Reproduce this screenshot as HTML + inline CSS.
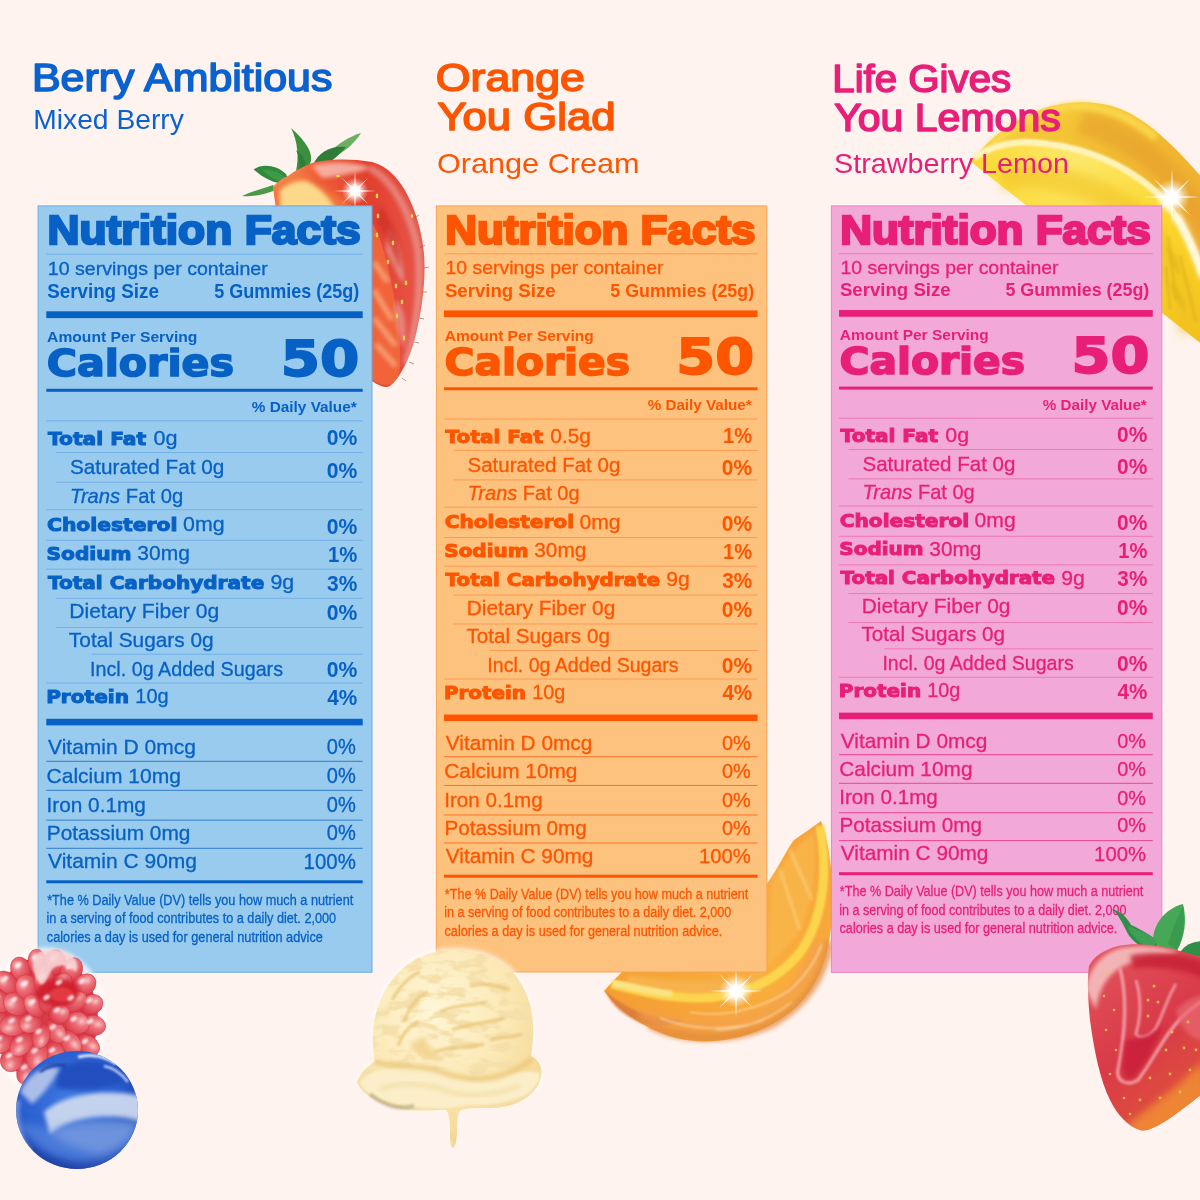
<!DOCTYPE html>
<html lang="en"><head><meta charset="utf-8"><title>Nutrition Facts</title>
<style>
html,body{margin:0;padding:0;background:#fef3ee;}
body{width:1200px;height:1200px;overflow:hidden;}
svg{display:block;font-family:"Liberation Sans",Arial,Helvetica,sans-serif;}
text{white-space:pre;}
.dj{font-family:"DejaVu Sans","Liberation Sans",sans-serif;}
</style></head><body>
<svg width="1200" height="1200" viewBox="0 0 1200 1200" shape-rendering="geometricPrecision">
<rect width="1200" height="1200" fill="#fef3ee"/>
<defs>
<filter id="b1" x="-20%" y="-20%" width="140%" height="140%"><feGaussianBlur stdDeviation="1"/></filter>
<filter id="b2" x="-20%" y="-20%" width="140%" height="140%"><feGaussianBlur stdDeviation="2.2"/></filter>
<filter id="b4" x="-30%" y="-30%" width="160%" height="160%"><feGaussianBlur stdDeviation="4"/></filter>
<filter id="b8" x="-40%" y="-40%" width="180%" height="180%"><feGaussianBlur stdDeviation="8"/></filter>
<radialGradient id="spark"><stop offset="0" stop-color="#fff"/><stop offset=".35" stop-color="#fff" stop-opacity=".95"/><stop offset=".7" stop-color="#fff" stop-opacity=".35"/><stop offset="1" stop-color="#fff" stop-opacity="0"/></radialGradient>
<g id="sparkle"><circle r="14" fill="url(#spark)"/><path d="M-22 0L0 -1.2L22 0L0 1.2ZM0 -22L1.2 0L0 22L-1.2 0ZM-14 -14L.9 -.9L14 14L-.9 .9ZM14 -14L.9 .9L-14 14L-.9 -.9Z" fill="#fff" opacity=".85"/></g>
<linearGradient id="sbA" x1="0" y1="0" x2="1" y2="0"><stop offset="0" stop-color="#f6a25a"/><stop offset=".3" stop-color="#ef5a36"/><stop offset=".62" stop-color="#e23f2e"/><stop offset="1" stop-color="#e8564a"/></linearGradient>
<clipPath id="sbAclip"><path id="sbApath" d="M273 187C277 182 283 178 288 176C296 170 304 166 312 163C326 159 350 158 372 162C388 166 400 180 408 196C416 212 422 232 424 254C426 280 422 310 415 338C409 360 400 378 390 386C384 389 376 384 368 378L300 330L277 215Z"/></clipPath>
<radialGradient id="lemF" cx=".45" cy=".1" r="1"><stop offset="0" stop-color="#fde86a"/><stop offset=".5" stop-color="#fbd62c"/><stop offset="1" stop-color="#f3c21c"/></radialGradient>
<linearGradient id="lemR" x1="0" y1="0" x2="1" y2="1"><stop offset="0" stop-color="#f8d23c"/><stop offset=".5" stop-color="#f2b932"/><stop offset="1" stop-color="#eca634"/></linearGradient>
<linearGradient id="orF" x1="1" y1="0" x2="0" y2="1"><stop offset="0" stop-color="#f7a23a"/><stop offset=".5" stop-color="#f9ae3c"/><stop offset="1" stop-color="#f49a30"/></linearGradient>
</defs>
<!-- top strawberry (behind blue panel) -->
<g>
<path d="M242 196C252 191 262 189 273 185L276 190C264 195 252 197 242 196Z" fill="#4a9a48"/>
<path d="M253.6 169.5C262 163 277 165 286 174L290 183C278 186 264 179 253.6 169.5Z" fill="#2f8a3c"/>
<path d="M262 170C270 168 280 172 286 178L288 183C278 182 268 176 262 170Z" fill="#3f9a48"/>
<path d="M328 153C338 144 350 136 361 133C355 143 345 151 336 156Z" fill="#6ab060"/>
<path d="M291 128C302 138 313 150 311 161L308 169L296 171C299 158 298 142 291 128Z" fill="#3c8f3f"/>
<path d="M296 150C302 154 306 160 306 168L299 170C300 162 299 156 296 150Z" fill="#2f7d36"/>
<path d="M313 165C318 152 332 145 346 147C341 153 332 161 323 168Z" fill="#2f7d36"/>
<path d="M284 180C292 172 304 168 314 166L322 172L290 188Z" fill="#4a2e22"/>
<use href="#sbApath" fill="url(#sbA)"/>
<g clip-path="url(#sbAclip)">
<path d="M268 188C280 180 292 176 300 178C318 184 336 192 350 204L350 400L268 400Z" fill="#f2743e" filter="url(#b4)"/>
<path d="M280 190C288 183 298 180 306 181C318 186 330 196 338 214L280 216Z" fill="#fbd88a" filter="url(#b2)"/>
<path d="M366 214C380 230 388 262 396 308C400 340 402 362 398 378C392 388 382 386 372 380L360 300Z" fill="#f1643a"/>
<path d="M374 290L392 320M374 318L396 346M376 344L396 366M374 262L388 282" stroke="#f9b48a" stroke-width="5" opacity=".75" filter="url(#b2)"/>
<path d="M370 168C392 180 410 210 418 250C422 290 416 330 406 364" stroke="#e9b4b0" stroke-width="7" fill="none" opacity=".55" filter="url(#b2)"/>
<path d="M388 226C398 240 404 262 404 284C398 276 392 262 386 250Z" fill="#e8a8a4" opacity=".7" filter="url(#b2)"/>
<path d="M396 300C406 310 408 330 404 348C398 338 396 322 394 310Z" fill="#e8a8a4" opacity=".6" filter="url(#b2)"/>
<path d="M312 166C330 160 356 162 372 168C360 172 340 176 322 178Z" fill="#f7c3b8" opacity=".8" filter="url(#b2)"/>
<path d="M380 206C394 220 402 250 400 270C392 250 384 232 376 222Z" fill="#cf2f28" opacity=".7" filter="url(#b2)"/>
<g fill="#f1d24a"><ellipse cx="377" cy="196" rx="1.3" ry="2.4"/><ellipse cx="378" cy="216" rx="1.3" ry="2.4"/><ellipse cx="377" cy="235" rx="1.3" ry="2.4"/><ellipse cx="393" cy="243" rx="1.3" ry="2.4"/><ellipse cx="388" cy="262" rx="1.3" ry="2.4"/><ellipse cx="406" cy="283" rx="1.3" ry="2.4"/><ellipse cx="396" cy="286" rx="1.3" ry="2.4"/><ellipse cx="402" cy="302" rx="1.3" ry="2.4"/><ellipse cx="397" cy="316" rx="1.3" ry="2.4"/><ellipse cx="404" cy="338" rx="1.3" ry="2.4"/><ellipse cx="338" cy="176" rx="2" ry="1.2"/><ellipse cx="412" cy="216" rx="1.2" ry="2"/></g>
</g>
<path d="M414 218l5-3M420 248l5-3M424 268l5-1M422 292l5 0M419 318l5 1M414 342l5 1M409 362l5 2M402 378l4 3" stroke="#6a5a50" stroke-width=".8" opacity=".7"/>
<use href="#sparkle" transform="translate(355 191) scale(.95)"/>
</g>
<!-- lemon wedge (behind pink panel) -->
<g>
<path d="M974 158C988 140 1010 122 1042 109C1064 101 1090 100 1112 106C1140 114 1170 140 1204 180L1204 274C1194 240 1178 210 1158 190C1124 160 1078 142 1026 140Z" fill="url(#lemR)"/>
<path d="M1084 112C1110 112 1140 130 1164 154C1180 170 1194 188 1204 204L1204 240C1190 214 1170 186 1140 164C1120 150 1096 140 1076 134Z" fill="#e29a2c" opacity=".5" filter="url(#b4)"/>
<path d="M990 146C1010 126 1040 112 1070 106C1100 104 1130 116 1156 138" stroke="#fbdc50" stroke-width="8" fill="none" opacity=".8" filter="url(#b2)"/>
<path d="M970 161C980 149 1000 141 1026 140C1078 142 1124 160 1158 190C1178 210 1194 240 1204 274L1204 346L970 161Z" fill="url(#lemF)"/>
<path d="M1000 178C1040 172 1090 182 1130 210C1160 236 1180 280 1192 332" stroke="#f0c020" stroke-width="24" fill="none" opacity=".5" filter="url(#b4)"/>
<path d="M974 158C986 149 1002 143 1026 142C1078 144 1122 162 1156 192C1176 212 1192 242 1202 274" stroke="#fff4c0" stroke-width="6.5" fill="none" opacity=".95" filter="url(#b1)"/>
<path d="M1176 214C1186 232 1196 254 1204 278" stroke="#fffbe6" stroke-width="9" fill="none" opacity=".8" filter="url(#b2)"/>
<path d="M1168 236L1176 300M1180 256L1196 322M1166 266L1170 310" stroke="#d9b21e" stroke-width="3" fill="none" opacity=".55" filter="url(#b1)"/>
<path d="M1166 246C1174 250 1180 262 1180 276C1174 270 1168 262 1166 246ZM1170 282C1180 288 1186 300 1186 314C1178 306 1172 296 1170 282Z" fill="#e0b41c" opacity=".5" filter="url(#b1)"/>
<use href="#sparkle" transform="translate(1172 197) scale(1.3)"/>
</g>
<!-- orange slice (behind orange & pink panels) -->
<g>
<path d="M821 821C832 850 836 900 829 942C822 980 804 1006 776 1022C746 1040 708 1046 676 1038C646 1030 620 1012 604 991C610 984 616 978 622 972L760 960L762 890C776 874 786 850 794 840C806 832 814 826 821 821Z" fill="url(#orF)"/>
<path d="M606 991C620 1006 650 1020 684 1020C660 1030 640 1026 622 1012C614 1006 608 998 606 991Z" fill="#d9783a" opacity=".85" filter="url(#b1)"/>
<path d="M650 1024C680 1040 730 1042 770 1024C800 1008 822 982 829 942" stroke="#e08a40" stroke-width="10" fill="none" opacity=".7" filter="url(#b2)"/>
<path d="M640 1012C670 1026 720 1030 760 1016C790 1002 812 976 820 940" stroke="#f3a050" stroke-width="12" fill="none" opacity=".8" filter="url(#b4)"/>
<path d="M772 880C786 860 800 842 814 832C818 870 812 910 796 936C784 950 774 960 766 968Z" fill="#f9b54a" opacity=".9" filter="url(#b2)"/>
<path d="M780 870L800 930M790 850L812 900" stroke="#f8c870" stroke-width="4" opacity=".7" filter="url(#b1)"/>
<path d="M628 975C670 982 720 984 764 974L764 990C720 1000 670 996 626 986Z" fill="#f7b24e" filter="url(#b2)"/>
<path d="M820 826C828 870 824 916 802 950C778 982 738 998 700 998C664 998 634 990 612 984" stroke="#fdd850" stroke-width="9" fill="none" opacity=".95" filter="url(#b1)"/>
<path d="M612 983C630 986 650 992 672 994" stroke="#fbe48a" stroke-width="7" fill="none" opacity=".9" filter="url(#b1)"/>
<path d="M690 1012C720 1018 760 1010 790 990C806 976 816 960 822 944M660 1018C690 1030 730 1032 764 1020M716 1030C740 1030 770 1020 792 1002" stroke="#fff" stroke-width="1.6" fill="none" opacity=".45" filter="url(#b1)"/>
<use href="#sparkle" transform="translate(736 991) scale(1.2)"/>
</g>

<rect x="38.1" y="205.9" width="333.90" height="766.30" fill="#98cbed" stroke="#6daae6" stroke-width="1"/>
<g transform="translate(38,205.8) scale(1,1) translate(-38,-205.8)">
<text x="47.43" y="244.20" font-size="41.28" font-weight="700" font-style="normal" fill="#0761c5" stroke="#0761c5" stroke-width="2.4" stroke-linejoin="miter" textLength="313.19" lengthAdjust="spacingAndGlyphs">Nutrition Facts</text><rect x="140.21" y="218.85" width="9.19" height="3.14" fill="#98cbed"/><rect x="167.32" y="218.85" width="9.19" height="3.14" fill="#98cbed"/>
<rect x="46.3" y="253.70" width="316.40" height="1.0" fill="#74b0e8"/>
<text x="47.86" y="274.50" font-size="18.30" font-weight="400" font-style="normal" fill="#0761c5" stroke="#0761c5" stroke-width="0.3" stroke-linejoin="miter" textLength="219.82" lengthAdjust="spacingAndGlyphs">10 servings per container</text>
<text x="47.16" y="297.50" font-size="19.30" font-weight="700" font-style="normal" fill="#0761c5" textLength="111.78" lengthAdjust="spacingAndGlyphs">Serving Size</text>
<text x="214.15" y="297.50" font-size="19.30" font-weight="700" font-style="normal" fill="#0761c5" textLength="145.05" lengthAdjust="spacingAndGlyphs">5 Gummies (25g)</text>
<rect x="46.3" y="311.3" width="316.40" height="6.80" fill="#0761c5"/>
<text x="47.11" y="342.00" font-size="14.20" font-weight="700" font-style="normal" fill="#0761c5" textLength="150.23" lengthAdjust="spacingAndGlyphs">Amount Per Serving</text>
<text x="46.75" y="376.00" font-size="38.13" class="dj" font-weight="700" fill="#0761c5" stroke="#0761c5" stroke-width="1.6" stroke-linejoin="miter" textLength="187.20" lengthAdjust="spacingAndGlyphs">Calories</text><rect x="169.73" y="352.73" width="9.50" height="2.15" fill="#98cbed"/>
<text x="280.74" y="375.50" font-size="50.40" class="dj" font-weight="700" fill="#0761c5" stroke="#0761c5" stroke-width="1.8" stroke-linejoin="miter" textLength="78.56" lengthAdjust="spacingAndGlyphs">50</text>
<rect x="46.3" y="388.8" width="316.40" height="3.00" fill="#0761c5"/>
<text x="251.82" y="412.00" font-size="14.60" font-weight="700" font-style="normal" fill="#0761c5" textLength="104.89" lengthAdjust="spacingAndGlyphs">% Daily Value*</text>
<rect x="46.3" y="420.30" width="316.40" height="1.0" fill="#74b0e8"/>
<text x="47.90" y="444.50" font-size="17.70" class="dj" font-weight="700" fill="#0761c5" stroke="#0761c5" stroke-width="1" stroke-linejoin="miter" textLength="98.24" lengthAdjust="spacingAndGlyphs">Total Fat</text>
<text x="153.51" y="445.00" font-size="20.80" font-weight="400" font-style="normal" fill="#0761c5" stroke="#0761c5" stroke-width="0.3" stroke-linejoin="miter" textLength="24.04" lengthAdjust="spacingAndGlyphs">0g</text>
<text x="326.66" y="444.60" font-size="21.50" font-weight="700" font-style="normal" fill="#0761c5" textLength="30.60" lengthAdjust="spacingAndGlyphs">0%</text>
<text x="46.99" y="530.80" font-size="17.70" class="dj" font-weight="700" fill="#0761c5" stroke="#0761c5" stroke-width="1" stroke-linejoin="miter" textLength="130.52" lengthAdjust="spacingAndGlyphs">Cholesterol</text>
<text x="183.02" y="531.30" font-size="20.80" font-weight="400" font-style="normal" fill="#0761c5" stroke="#0761c5" stroke-width="0.3" stroke-linejoin="miter" textLength="41.51" lengthAdjust="spacingAndGlyphs">0mg</text>
<text x="326.66" y="533.80" font-size="21.50" font-weight="700" font-style="normal" fill="#0761c5" textLength="30.60" lengthAdjust="spacingAndGlyphs">0%</text>
<text x="46.55" y="559.50" font-size="17.70" class="dj" font-weight="700" fill="#0761c5" stroke="#0761c5" stroke-width="1" stroke-linejoin="miter" textLength="85.04" lengthAdjust="spacingAndGlyphs">Sodium</text><rect x="90.18" y="548.60" width="5.22" height="1.20" fill="#98cbed"/>
<text x="137.35" y="560.00" font-size="20.80" font-weight="400" font-style="normal" fill="#0761c5" stroke="#0761c5" stroke-width="0.3" stroke-linejoin="miter" textLength="52.55" lengthAdjust="spacingAndGlyphs">30mg</text>
<text x="327.92" y="562.20" font-size="21.50" font-weight="700" font-style="normal" fill="#0761c5" textLength="29.31" lengthAdjust="spacingAndGlyphs">1%</text>
<text x="47.90" y="588.70" font-size="17.70" class="dj" font-weight="700" fill="#0761c5" stroke="#0761c5" stroke-width="1" stroke-linejoin="miter" textLength="216.35" lengthAdjust="spacingAndGlyphs">Total Carbohydrate</text>
<text x="270.45" y="589.20" font-size="20.80" font-weight="400" font-style="normal" fill="#0761c5" stroke="#0761c5" stroke-width="0.3" stroke-linejoin="miter" textLength="23.78" lengthAdjust="spacingAndGlyphs">9g</text>
<text x="327.02" y="590.80" font-size="21.50" font-weight="700" font-style="normal" fill="#0761c5" textLength="30.23" lengthAdjust="spacingAndGlyphs">3%</text>
<text x="46.15" y="702.80" font-size="17.70" class="dj" font-weight="700" fill="#0761c5" stroke="#0761c5" stroke-width="1" stroke-linejoin="miter" textLength="82.92" lengthAdjust="spacingAndGlyphs">Protein</text><rect x="108.70" y="691.90" width="5.21" height="1.20" fill="#98cbed"/>
<text x="135.33" y="703.30" font-size="20.80" font-weight="400" font-style="normal" fill="#0761c5" stroke="#0761c5" stroke-width="0.3" stroke-linejoin="miter" textLength="33.31" lengthAdjust="spacingAndGlyphs">10g</text>
<text x="327.19" y="704.50" font-size="21.50" font-weight="700" font-style="normal" fill="#0761c5" textLength="30.06" lengthAdjust="spacingAndGlyphs">4%</text>
<text x="70.01" y="474.10" font-size="20.80" font-weight="400" font-style="normal" fill="#0761c5" stroke="#0761c5" stroke-width="0.3" stroke-linejoin="miter" textLength="154.17" lengthAdjust="spacingAndGlyphs">Saturated Fat 0g</text>
<text x="326.66" y="477.60" font-size="21.50" font-weight="700" font-style="normal" fill="#0761c5" textLength="30.60" lengthAdjust="spacingAndGlyphs">0%</text>
<text x="69.22" y="618.10" font-size="20.80" font-weight="400" font-style="normal" fill="#0761c5" stroke="#0761c5" stroke-width="0.3" stroke-linejoin="miter" textLength="149.99" lengthAdjust="spacingAndGlyphs">Dietary Fiber 0g</text>
<text x="326.66" y="620.00" font-size="21.50" font-weight="700" font-style="normal" fill="#0761c5" textLength="30.60" lengthAdjust="spacingAndGlyphs">0%</text>
<text x="68.89" y="646.80" font-size="20.80" font-weight="400" font-style="normal" fill="#0761c5" stroke="#0761c5" stroke-width="0.3" stroke-linejoin="miter" textLength="144.78" lengthAdjust="spacingAndGlyphs">Total Sugars 0g</text>
<text x="90.04" y="675.60" font-size="20.80" font-weight="400" font-style="normal" fill="#0761c5" stroke="#0761c5" stroke-width="0.3" stroke-linejoin="miter" textLength="193.02" lengthAdjust="spacingAndGlyphs">Incl. 0g Added Sugars</text>
<text x="326.66" y="676.80" font-size="21.50" font-weight="700" font-style="normal" fill="#0761c5" textLength="30.60" lengthAdjust="spacingAndGlyphs">0%</text>
<text x="70.06" y="502.70" font-size="20.80" font-weight="400" font-style="italic" fill="#0761c5" stroke="#0761c5" stroke-width="0.3" stroke-linejoin="miter" textLength="113.08" lengthAdjust="spacingAndGlyphs">Trans<tspan font-weight="400" font-style="normal"> Fat 0g</tspan></text>
<rect x="55.8" y="452.00" width="306.90" height="1.0" fill="#74b0e8"/>
<rect x="55.8" y="481.70" width="306.90" height="1.0" fill="#74b0e8"/>
<rect x="46.3" y="509.20" width="316.40" height="1.0" fill="#74b0e8"/>
<rect x="46.3" y="539.80" width="316.40" height="1.0" fill="#74b0e8"/>
<rect x="46.3" y="568.70" width="316.40" height="1.0" fill="#74b0e8"/>
<rect x="55.8" y="597.80" width="306.90" height="1.0" fill="#74b0e8"/>
<rect x="55.8" y="627.00" width="306.90" height="1.0" fill="#74b0e8"/>
<rect x="92" y="653.70" width="270.70" height="1.0" fill="#74b0e8"/>
<rect x="46.3" y="682.50" width="316.40" height="1.0" fill="#74b0e8"/>
<rect x="46.3" y="718.8" width="316.40" height="6.60" fill="#0761c5"/>
<text x="48.06" y="754.10" font-size="20.90" font-weight="400" font-style="normal" fill="#0761c5" stroke="#0761c5" stroke-width="0.3" stroke-linejoin="miter" textLength="147.84" lengthAdjust="spacingAndGlyphs">Vitamin D 0mcg</text>
<text x="326.87" y="754.30" font-size="21.20" font-weight="400" font-style="normal" fill="#0761c5" stroke="#0761c5" stroke-width="0.3" stroke-linejoin="miter" textLength="29.00" lengthAdjust="spacingAndGlyphs">0%</text>
<text x="46.58" y="782.50" font-size="20.90" font-weight="400" font-style="normal" fill="#0761c5" stroke="#0761c5" stroke-width="0.3" stroke-linejoin="miter" textLength="134.32" lengthAdjust="spacingAndGlyphs">Calcium 10mg</text>
<text x="326.87" y="782.70" font-size="21.20" font-weight="400" font-style="normal" fill="#0761c5" stroke="#0761c5" stroke-width="0.3" stroke-linejoin="miter" textLength="29.00" lengthAdjust="spacingAndGlyphs">0%</text>
<text x="46.53" y="811.70" font-size="20.90" font-weight="400" font-style="normal" fill="#0761c5" stroke="#0761c5" stroke-width="0.3" stroke-linejoin="miter" textLength="99.36" lengthAdjust="spacingAndGlyphs">Iron 0.1mg</text>
<text x="326.87" y="811.90" font-size="21.20" font-weight="400" font-style="normal" fill="#0761c5" stroke="#0761c5" stroke-width="0.3" stroke-linejoin="miter" textLength="29.00" lengthAdjust="spacingAndGlyphs">0%</text>
<text x="46.74" y="839.80" font-size="20.90" font-weight="400" font-style="normal" fill="#0761c5" stroke="#0761c5" stroke-width="0.3" stroke-linejoin="miter" textLength="143.65" lengthAdjust="spacingAndGlyphs">Potassium 0mg</text>
<text x="326.87" y="840.00" font-size="21.20" font-weight="400" font-style="normal" fill="#0761c5" stroke="#0761c5" stroke-width="0.3" stroke-linejoin="miter" textLength="29.00" lengthAdjust="spacingAndGlyphs">0%</text>
<text x="48.06" y="868.40" font-size="20.90" font-weight="400" font-style="normal" fill="#0761c5" stroke="#0761c5" stroke-width="0.3" stroke-linejoin="miter" textLength="148.94" lengthAdjust="spacingAndGlyphs">Vitamin C 90mg</text>
<text x="303.59" y="868.60" font-size="21.20" font-weight="400" font-style="normal" fill="#0761c5" stroke="#0761c5" stroke-width="0.3" stroke-linejoin="miter" textLength="52.29" lengthAdjust="spacingAndGlyphs">100%</text>
<rect x="46.3" y="760.80" width="316.40" height="1" fill="#0761c5" opacity=".72"/>
<rect x="46.3" y="789.80" width="316.40" height="1" fill="#0761c5" opacity=".72"/>
<rect x="46.3" y="819.60" width="316.40" height="1" fill="#0761c5" opacity=".72"/>
<rect x="46.3" y="847.80" width="316.40" height="1" fill="#0761c5" opacity=".72"/>
<rect x="46.3" y="880.3" width="316.40" height="3.00" fill="#0761c5"/>
<text x="47.15" y="904.80" font-size="14.80" font-weight="400" font-style="normal" fill="#0761c5" stroke="#0761c5" stroke-width="0.3" stroke-linejoin="miter" textLength="306.10" lengthAdjust="spacingAndGlyphs">*The % Daily Value (DV) tells you how much a nutrient</text>
<text x="46.50" y="923.30" font-size="14.80" font-weight="400" font-style="normal" fill="#0761c5" stroke="#0761c5" stroke-width="0.3" stroke-linejoin="miter" textLength="289.64" lengthAdjust="spacingAndGlyphs">in a serving of food contributes to a daily diet. 2,000</text>
<text x="46.81" y="941.80" font-size="14.80" font-weight="400" font-style="normal" fill="#0761c5" stroke="#0761c5" stroke-width="0.3" stroke-linejoin="miter" textLength="276.11" lengthAdjust="spacingAndGlyphs">calories a day is used for general nutrition advice</text>
</g>
<rect x="436.4" y="205.9" width="330.50" height="766.10" fill="#fdc27e" stroke="#f7a455" stroke-width="1"/>
<g transform="translate(435.8,205.8) scale(0.991,0.9917) translate(-38,-205.8)">
<text x="47.43" y="244.20" font-size="41.28" font-weight="700" font-style="normal" fill="#fd5500" stroke="#fd5500" stroke-width="2.4" stroke-linejoin="miter" textLength="313.19" lengthAdjust="spacingAndGlyphs">Nutrition Facts</text><rect x="140.21" y="218.85" width="9.19" height="3.14" fill="#fdc27e"/><rect x="167.32" y="218.85" width="9.19" height="3.14" fill="#fdc27e"/>
<rect x="46.3" y="253.70" width="316.40" height="1.0" fill="#ff9a50"/>
<text x="47.86" y="274.50" font-size="18.30" font-weight="400" font-style="normal" fill="#fd5500" stroke="#fd5500" stroke-width="0.3" stroke-linejoin="miter" textLength="219.82" lengthAdjust="spacingAndGlyphs">10 servings per container</text>
<text x="47.16" y="297.50" font-size="19.30" font-weight="700" font-style="normal" fill="#fd5500" textLength="111.78" lengthAdjust="spacingAndGlyphs">Serving Size</text>
<text x="214.15" y="297.50" font-size="19.30" font-weight="700" font-style="normal" fill="#fd5500" textLength="145.05" lengthAdjust="spacingAndGlyphs">5 Gummies (25g)</text>
<rect x="46.3" y="311.3" width="316.40" height="6.80" fill="#fd5500"/>
<text x="47.11" y="342.00" font-size="14.20" font-weight="700" font-style="normal" fill="#fd5500" textLength="150.23" lengthAdjust="spacingAndGlyphs">Amount Per Serving</text>
<text x="46.75" y="376.00" font-size="38.13" class="dj" font-weight="700" fill="#fd5500" stroke="#fd5500" stroke-width="1.6" stroke-linejoin="miter" textLength="187.20" lengthAdjust="spacingAndGlyphs">Calories</text><rect x="169.73" y="352.73" width="9.50" height="2.15" fill="#fdc27e"/>
<text x="280.74" y="375.50" font-size="50.40" class="dj" font-weight="700" fill="#fd5500" stroke="#fd5500" stroke-width="1.8" stroke-linejoin="miter" textLength="78.56" lengthAdjust="spacingAndGlyphs">50</text>
<rect x="46.3" y="388.8" width="316.40" height="3.00" fill="#fd5500"/>
<text x="251.82" y="412.00" font-size="14.60" font-weight="700" font-style="normal" fill="#fd5500" textLength="104.89" lengthAdjust="spacingAndGlyphs">% Daily Value*</text>
<rect x="46.3" y="420.30" width="316.40" height="1.0" fill="#ff9a50"/>
<text x="47.90" y="444.50" font-size="17.70" class="dj" font-weight="700" fill="#fd5500" stroke="#fd5500" stroke-width="1" stroke-linejoin="miter" textLength="98.24" lengthAdjust="spacingAndGlyphs">Total Fat</text>
<text x="153.53" y="445.00" font-size="20.80" font-weight="400" font-style="normal" fill="#fd5500" stroke="#fd5500" stroke-width="0.3" stroke-linejoin="miter" textLength="40.98" lengthAdjust="spacingAndGlyphs">0.5g</text>
<text x="327.92" y="444.60" font-size="21.50" font-weight="700" font-style="normal" fill="#fd5500" textLength="29.31" lengthAdjust="spacingAndGlyphs">1%</text>
<text x="46.99" y="530.80" font-size="17.70" class="dj" font-weight="700" fill="#fd5500" stroke="#fd5500" stroke-width="1" stroke-linejoin="miter" textLength="130.52" lengthAdjust="spacingAndGlyphs">Cholesterol</text>
<text x="183.02" y="531.30" font-size="20.80" font-weight="400" font-style="normal" fill="#fd5500" stroke="#fd5500" stroke-width="0.3" stroke-linejoin="miter" textLength="41.51" lengthAdjust="spacingAndGlyphs">0mg</text>
<text x="326.66" y="533.80" font-size="21.50" font-weight="700" font-style="normal" fill="#fd5500" textLength="30.60" lengthAdjust="spacingAndGlyphs">0%</text>
<text x="46.55" y="559.50" font-size="17.70" class="dj" font-weight="700" fill="#fd5500" stroke="#fd5500" stroke-width="1" stroke-linejoin="miter" textLength="85.04" lengthAdjust="spacingAndGlyphs">Sodium</text><rect x="90.18" y="548.60" width="5.22" height="1.20" fill="#fdc27e"/>
<text x="137.35" y="560.00" font-size="20.80" font-weight="400" font-style="normal" fill="#fd5500" stroke="#fd5500" stroke-width="0.3" stroke-linejoin="miter" textLength="52.55" lengthAdjust="spacingAndGlyphs">30mg</text>
<text x="327.92" y="562.20" font-size="21.50" font-weight="700" font-style="normal" fill="#fd5500" textLength="29.31" lengthAdjust="spacingAndGlyphs">1%</text>
<text x="47.90" y="588.70" font-size="17.70" class="dj" font-weight="700" fill="#fd5500" stroke="#fd5500" stroke-width="1" stroke-linejoin="miter" textLength="216.35" lengthAdjust="spacingAndGlyphs">Total Carbohydrate</text>
<text x="270.45" y="589.20" font-size="20.80" font-weight="400" font-style="normal" fill="#fd5500" stroke="#fd5500" stroke-width="0.3" stroke-linejoin="miter" textLength="23.78" lengthAdjust="spacingAndGlyphs">9g</text>
<text x="327.02" y="590.80" font-size="21.50" font-weight="700" font-style="normal" fill="#fd5500" textLength="30.23" lengthAdjust="spacingAndGlyphs">3%</text>
<text x="46.15" y="702.80" font-size="17.70" class="dj" font-weight="700" fill="#fd5500" stroke="#fd5500" stroke-width="1" stroke-linejoin="miter" textLength="82.92" lengthAdjust="spacingAndGlyphs">Protein</text><rect x="108.70" y="691.90" width="5.21" height="1.20" fill="#fdc27e"/>
<text x="135.33" y="703.30" font-size="20.80" font-weight="400" font-style="normal" fill="#fd5500" stroke="#fd5500" stroke-width="0.3" stroke-linejoin="miter" textLength="33.31" lengthAdjust="spacingAndGlyphs">10g</text>
<text x="327.19" y="704.50" font-size="21.50" font-weight="700" font-style="normal" fill="#fd5500" textLength="30.06" lengthAdjust="spacingAndGlyphs">4%</text>
<text x="70.01" y="474.10" font-size="20.80" font-weight="400" font-style="normal" fill="#fd5500" stroke="#fd5500" stroke-width="0.3" stroke-linejoin="miter" textLength="154.17" lengthAdjust="spacingAndGlyphs">Saturated Fat 0g</text>
<text x="326.66" y="477.60" font-size="21.50" font-weight="700" font-style="normal" fill="#fd5500" textLength="30.60" lengthAdjust="spacingAndGlyphs">0%</text>
<text x="69.22" y="618.10" font-size="20.80" font-weight="400" font-style="normal" fill="#fd5500" stroke="#fd5500" stroke-width="0.3" stroke-linejoin="miter" textLength="149.99" lengthAdjust="spacingAndGlyphs">Dietary Fiber 0g</text>
<text x="326.66" y="620.00" font-size="21.50" font-weight="700" font-style="normal" fill="#fd5500" textLength="30.60" lengthAdjust="spacingAndGlyphs">0%</text>
<text x="68.89" y="646.80" font-size="20.80" font-weight="400" font-style="normal" fill="#fd5500" stroke="#fd5500" stroke-width="0.3" stroke-linejoin="miter" textLength="144.78" lengthAdjust="spacingAndGlyphs">Total Sugars 0g</text>
<text x="90.04" y="675.60" font-size="20.80" font-weight="400" font-style="normal" fill="#fd5500" stroke="#fd5500" stroke-width="0.3" stroke-linejoin="miter" textLength="193.02" lengthAdjust="spacingAndGlyphs">Incl. 0g Added Sugars</text>
<text x="326.66" y="676.80" font-size="21.50" font-weight="700" font-style="normal" fill="#fd5500" textLength="30.60" lengthAdjust="spacingAndGlyphs">0%</text>
<text x="70.06" y="502.70" font-size="20.80" font-weight="400" font-style="italic" fill="#fd5500" stroke="#fd5500" stroke-width="0.3" stroke-linejoin="miter" textLength="113.08" lengthAdjust="spacingAndGlyphs">Trans<tspan font-weight="400" font-style="normal"> Fat 0g</tspan></text>
<rect x="55.8" y="452.00" width="306.90" height="1.0" fill="#ff9a50"/>
<rect x="55.8" y="481.70" width="306.90" height="1.0" fill="#ff9a50"/>
<rect x="46.3" y="509.20" width="316.40" height="1.0" fill="#ff9a50"/>
<rect x="46.3" y="539.80" width="316.40" height="1.0" fill="#ff9a50"/>
<rect x="46.3" y="568.70" width="316.40" height="1.0" fill="#ff9a50"/>
<rect x="55.8" y="597.80" width="306.90" height="1.0" fill="#ff9a50"/>
<rect x="55.8" y="627.00" width="306.90" height="1.0" fill="#ff9a50"/>
<rect x="92" y="653.70" width="270.70" height="1.0" fill="#ff9a50"/>
<rect x="46.3" y="682.50" width="316.40" height="1.0" fill="#ff9a50"/>
<rect x="46.3" y="718.8" width="316.40" height="6.60" fill="#fd5500"/>
<text x="48.06" y="754.10" font-size="20.90" font-weight="400" font-style="normal" fill="#fd5500" stroke="#fd5500" stroke-width="0.3" stroke-linejoin="miter" textLength="147.84" lengthAdjust="spacingAndGlyphs">Vitamin D 0mcg</text>
<text x="326.87" y="754.30" font-size="21.20" font-weight="400" font-style="normal" fill="#fd5500" stroke="#fd5500" stroke-width="0.3" stroke-linejoin="miter" textLength="29.00" lengthAdjust="spacingAndGlyphs">0%</text>
<text x="46.58" y="782.50" font-size="20.90" font-weight="400" font-style="normal" fill="#fd5500" stroke="#fd5500" stroke-width="0.3" stroke-linejoin="miter" textLength="134.32" lengthAdjust="spacingAndGlyphs">Calcium 10mg</text>
<text x="326.87" y="782.70" font-size="21.20" font-weight="400" font-style="normal" fill="#fd5500" stroke="#fd5500" stroke-width="0.3" stroke-linejoin="miter" textLength="29.00" lengthAdjust="spacingAndGlyphs">0%</text>
<text x="46.53" y="811.70" font-size="20.90" font-weight="400" font-style="normal" fill="#fd5500" stroke="#fd5500" stroke-width="0.3" stroke-linejoin="miter" textLength="99.36" lengthAdjust="spacingAndGlyphs">Iron 0.1mg</text>
<text x="326.87" y="811.90" font-size="21.20" font-weight="400" font-style="normal" fill="#fd5500" stroke="#fd5500" stroke-width="0.3" stroke-linejoin="miter" textLength="29.00" lengthAdjust="spacingAndGlyphs">0%</text>
<text x="46.74" y="839.80" font-size="20.90" font-weight="400" font-style="normal" fill="#fd5500" stroke="#fd5500" stroke-width="0.3" stroke-linejoin="miter" textLength="143.65" lengthAdjust="spacingAndGlyphs">Potassium 0mg</text>
<text x="326.87" y="840.00" font-size="21.20" font-weight="400" font-style="normal" fill="#fd5500" stroke="#fd5500" stroke-width="0.3" stroke-linejoin="miter" textLength="29.00" lengthAdjust="spacingAndGlyphs">0%</text>
<text x="48.06" y="868.40" font-size="20.90" font-weight="400" font-style="normal" fill="#fd5500" stroke="#fd5500" stroke-width="0.3" stroke-linejoin="miter" textLength="148.94" lengthAdjust="spacingAndGlyphs">Vitamin C 90mg</text>
<text x="303.59" y="868.60" font-size="21.20" font-weight="400" font-style="normal" fill="#fd5500" stroke="#fd5500" stroke-width="0.3" stroke-linejoin="miter" textLength="52.29" lengthAdjust="spacingAndGlyphs">100%</text>
<rect x="46.3" y="760.80" width="316.40" height="1" fill="#fd5500" opacity=".72"/>
<rect x="46.3" y="789.80" width="316.40" height="1" fill="#fd5500" opacity=".72"/>
<rect x="46.3" y="819.60" width="316.40" height="1" fill="#fd5500" opacity=".72"/>
<rect x="46.3" y="847.80" width="316.40" height="1" fill="#fd5500" opacity=".72"/>
<rect x="46.3" y="880.3" width="316.40" height="3.00" fill="#fd5500"/>
<text x="47.15" y="904.80" font-size="14.80" font-weight="400" font-style="normal" fill="#fd5500" stroke="#fd5500" stroke-width="0.3" stroke-linejoin="miter" textLength="306.10" lengthAdjust="spacingAndGlyphs">*The % Daily Value (DV) tells you how much a nutrient</text>
<text x="46.50" y="923.30" font-size="14.80" font-weight="400" font-style="normal" fill="#fd5500" stroke="#fd5500" stroke-width="0.3" stroke-linejoin="miter" textLength="289.64" lengthAdjust="spacingAndGlyphs">in a serving of food contributes to a daily diet. 2,000</text>
<text x="46.81" y="941.80" font-size="14.80" font-weight="400" font-style="normal" fill="#fd5500" stroke="#fd5500" stroke-width="0.3" stroke-linejoin="miter" textLength="280.21" lengthAdjust="spacingAndGlyphs">calories a day is used for general nutrition advice.</text>
</g>
<rect x="831.4" y="205.9" width="330.40" height="766.50" fill="#f2a8d8" stroke="#ec84c2" stroke-width="1"/>
<g transform="translate(830.8,205.8) scale(0.9915,0.988) translate(-38,-205.8)">
<text x="47.43" y="244.20" font-size="41.28" font-weight="700" font-style="normal" fill="#e81f78" stroke="#e81f78" stroke-width="2.4" stroke-linejoin="miter" textLength="313.19" lengthAdjust="spacingAndGlyphs">Nutrition Facts</text><rect x="140.21" y="218.85" width="9.19" height="3.14" fill="#f2a8d8"/><rect x="167.32" y="218.85" width="9.19" height="3.14" fill="#f2a8d8"/>
<rect x="46.3" y="253.70" width="316.40" height="1.0" fill="#ec78b8"/>
<text x="47.86" y="274.50" font-size="18.30" font-weight="400" font-style="normal" fill="#e81f78" stroke="#e81f78" stroke-width="0.3" stroke-linejoin="miter" textLength="219.82" lengthAdjust="spacingAndGlyphs">10 servings per container</text>
<text x="47.16" y="297.50" font-size="19.30" font-weight="700" font-style="normal" fill="#e81f78" textLength="111.78" lengthAdjust="spacingAndGlyphs">Serving Size</text>
<text x="214.15" y="297.50" font-size="19.30" font-weight="700" font-style="normal" fill="#e81f78" textLength="145.05" lengthAdjust="spacingAndGlyphs">5 Gummies (25g)</text>
<rect x="46.3" y="311.3" width="316.40" height="6.80" fill="#e81f78"/>
<text x="47.11" y="342.00" font-size="14.20" font-weight="700" font-style="normal" fill="#e81f78" textLength="150.23" lengthAdjust="spacingAndGlyphs">Amount Per Serving</text>
<text x="46.75" y="376.00" font-size="38.13" class="dj" font-weight="700" fill="#e81f78" stroke="#e81f78" stroke-width="1.6" stroke-linejoin="miter" textLength="187.20" lengthAdjust="spacingAndGlyphs">Calories</text><rect x="169.73" y="352.73" width="9.50" height="2.15" fill="#f2a8d8"/>
<text x="280.74" y="375.50" font-size="50.40" class="dj" font-weight="700" fill="#e81f78" stroke="#e81f78" stroke-width="1.8" stroke-linejoin="miter" textLength="78.56" lengthAdjust="spacingAndGlyphs">50</text>
<rect x="46.3" y="388.8" width="316.40" height="3.00" fill="#e81f78"/>
<text x="251.82" y="412.00" font-size="14.60" font-weight="700" font-style="normal" fill="#e81f78" textLength="104.89" lengthAdjust="spacingAndGlyphs">% Daily Value*</text>
<rect x="46.3" y="420.30" width="316.40" height="1.0" fill="#ec78b8"/>
<text x="47.90" y="444.50" font-size="17.70" class="dj" font-weight="700" fill="#e81f78" stroke="#e81f78" stroke-width="1" stroke-linejoin="miter" textLength="98.24" lengthAdjust="spacingAndGlyphs">Total Fat</text>
<text x="153.51" y="445.00" font-size="20.80" font-weight="400" font-style="normal" fill="#e81f78" stroke="#e81f78" stroke-width="0.3" stroke-linejoin="miter" textLength="24.04" lengthAdjust="spacingAndGlyphs">0g</text>
<text x="326.66" y="444.60" font-size="21.50" font-weight="700" font-style="normal" fill="#e81f78" textLength="30.60" lengthAdjust="spacingAndGlyphs">0%</text>
<text x="46.99" y="530.80" font-size="17.70" class="dj" font-weight="700" fill="#e81f78" stroke="#e81f78" stroke-width="1" stroke-linejoin="miter" textLength="130.52" lengthAdjust="spacingAndGlyphs">Cholesterol</text>
<text x="183.02" y="531.30" font-size="20.80" font-weight="400" font-style="normal" fill="#e81f78" stroke="#e81f78" stroke-width="0.3" stroke-linejoin="miter" textLength="41.51" lengthAdjust="spacingAndGlyphs">0mg</text>
<text x="326.66" y="533.80" font-size="21.50" font-weight="700" font-style="normal" fill="#e81f78" textLength="30.60" lengthAdjust="spacingAndGlyphs">0%</text>
<text x="46.55" y="559.50" font-size="17.70" class="dj" font-weight="700" fill="#e81f78" stroke="#e81f78" stroke-width="1" stroke-linejoin="miter" textLength="85.04" lengthAdjust="spacingAndGlyphs">Sodium</text><rect x="90.18" y="548.60" width="5.22" height="1.20" fill="#f2a8d8"/>
<text x="137.35" y="560.00" font-size="20.80" font-weight="400" font-style="normal" fill="#e81f78" stroke="#e81f78" stroke-width="0.3" stroke-linejoin="miter" textLength="52.55" lengthAdjust="spacingAndGlyphs">30mg</text>
<text x="327.92" y="562.20" font-size="21.50" font-weight="700" font-style="normal" fill="#e81f78" textLength="29.31" lengthAdjust="spacingAndGlyphs">1%</text>
<text x="47.90" y="588.70" font-size="17.70" class="dj" font-weight="700" fill="#e81f78" stroke="#e81f78" stroke-width="1" stroke-linejoin="miter" textLength="216.35" lengthAdjust="spacingAndGlyphs">Total Carbohydrate</text>
<text x="270.45" y="589.20" font-size="20.80" font-weight="400" font-style="normal" fill="#e81f78" stroke="#e81f78" stroke-width="0.3" stroke-linejoin="miter" textLength="23.78" lengthAdjust="spacingAndGlyphs">9g</text>
<text x="327.02" y="590.80" font-size="21.50" font-weight="700" font-style="normal" fill="#e81f78" textLength="30.23" lengthAdjust="spacingAndGlyphs">3%</text>
<text x="46.15" y="702.80" font-size="17.70" class="dj" font-weight="700" fill="#e81f78" stroke="#e81f78" stroke-width="1" stroke-linejoin="miter" textLength="82.92" lengthAdjust="spacingAndGlyphs">Protein</text><rect x="108.70" y="691.90" width="5.21" height="1.20" fill="#f2a8d8"/>
<text x="135.33" y="703.30" font-size="20.80" font-weight="400" font-style="normal" fill="#e81f78" stroke="#e81f78" stroke-width="0.3" stroke-linejoin="miter" textLength="33.31" lengthAdjust="spacingAndGlyphs">10g</text>
<text x="327.19" y="704.50" font-size="21.50" font-weight="700" font-style="normal" fill="#e81f78" textLength="30.06" lengthAdjust="spacingAndGlyphs">4%</text>
<text x="70.01" y="474.10" font-size="20.80" font-weight="400" font-style="normal" fill="#e81f78" stroke="#e81f78" stroke-width="0.3" stroke-linejoin="miter" textLength="154.17" lengthAdjust="spacingAndGlyphs">Saturated Fat 0g</text>
<text x="326.66" y="477.60" font-size="21.50" font-weight="700" font-style="normal" fill="#e81f78" textLength="30.60" lengthAdjust="spacingAndGlyphs">0%</text>
<text x="69.22" y="618.10" font-size="20.80" font-weight="400" font-style="normal" fill="#e81f78" stroke="#e81f78" stroke-width="0.3" stroke-linejoin="miter" textLength="149.99" lengthAdjust="spacingAndGlyphs">Dietary Fiber 0g</text>
<text x="326.66" y="620.00" font-size="21.50" font-weight="700" font-style="normal" fill="#e81f78" textLength="30.60" lengthAdjust="spacingAndGlyphs">0%</text>
<text x="68.89" y="646.80" font-size="20.80" font-weight="400" font-style="normal" fill="#e81f78" stroke="#e81f78" stroke-width="0.3" stroke-linejoin="miter" textLength="144.78" lengthAdjust="spacingAndGlyphs">Total Sugars 0g</text>
<text x="90.04" y="675.60" font-size="20.80" font-weight="400" font-style="normal" fill="#e81f78" stroke="#e81f78" stroke-width="0.3" stroke-linejoin="miter" textLength="193.02" lengthAdjust="spacingAndGlyphs">Incl. 0g Added Sugars</text>
<text x="326.66" y="676.80" font-size="21.50" font-weight="700" font-style="normal" fill="#e81f78" textLength="30.60" lengthAdjust="spacingAndGlyphs">0%</text>
<text x="70.06" y="502.70" font-size="20.80" font-weight="400" font-style="italic" fill="#e81f78" stroke="#e81f78" stroke-width="0.3" stroke-linejoin="miter" textLength="113.08" lengthAdjust="spacingAndGlyphs">Trans<tspan font-weight="400" font-style="normal"> Fat 0g</tspan></text>
<rect x="55.8" y="452.00" width="306.90" height="1.0" fill="#ec78b8"/>
<rect x="55.8" y="481.70" width="306.90" height="1.0" fill="#ec78b8"/>
<rect x="46.3" y="509.20" width="316.40" height="1.0" fill="#ec78b8"/>
<rect x="46.3" y="539.80" width="316.40" height="1.0" fill="#ec78b8"/>
<rect x="46.3" y="568.70" width="316.40" height="1.0" fill="#ec78b8"/>
<rect x="55.8" y="597.80" width="306.90" height="1.0" fill="#ec78b8"/>
<rect x="55.8" y="627.00" width="306.90" height="1.0" fill="#ec78b8"/>
<rect x="92" y="653.70" width="270.70" height="1.0" fill="#ec78b8"/>
<rect x="46.3" y="682.50" width="316.40" height="1.0" fill="#ec78b8"/>
<rect x="46.3" y="718.8" width="316.40" height="6.60" fill="#e81f78"/>
<text x="48.06" y="754.10" font-size="20.90" font-weight="400" font-style="normal" fill="#e81f78" stroke="#e81f78" stroke-width="0.3" stroke-linejoin="miter" textLength="147.84" lengthAdjust="spacingAndGlyphs">Vitamin D 0mcg</text>
<text x="326.87" y="754.30" font-size="21.20" font-weight="400" font-style="normal" fill="#e81f78" stroke="#e81f78" stroke-width="0.3" stroke-linejoin="miter" textLength="29.00" lengthAdjust="spacingAndGlyphs">0%</text>
<text x="46.58" y="782.50" font-size="20.90" font-weight="400" font-style="normal" fill="#e81f78" stroke="#e81f78" stroke-width="0.3" stroke-linejoin="miter" textLength="134.32" lengthAdjust="spacingAndGlyphs">Calcium 10mg</text>
<text x="326.87" y="782.70" font-size="21.20" font-weight="400" font-style="normal" fill="#e81f78" stroke="#e81f78" stroke-width="0.3" stroke-linejoin="miter" textLength="29.00" lengthAdjust="spacingAndGlyphs">0%</text>
<text x="46.53" y="811.70" font-size="20.90" font-weight="400" font-style="normal" fill="#e81f78" stroke="#e81f78" stroke-width="0.3" stroke-linejoin="miter" textLength="99.36" lengthAdjust="spacingAndGlyphs">Iron 0.1mg</text>
<text x="326.87" y="811.90" font-size="21.20" font-weight="400" font-style="normal" fill="#e81f78" stroke="#e81f78" stroke-width="0.3" stroke-linejoin="miter" textLength="29.00" lengthAdjust="spacingAndGlyphs">0%</text>
<text x="46.74" y="839.80" font-size="20.90" font-weight="400" font-style="normal" fill="#e81f78" stroke="#e81f78" stroke-width="0.3" stroke-linejoin="miter" textLength="143.65" lengthAdjust="spacingAndGlyphs">Potassium 0mg</text>
<text x="326.87" y="840.00" font-size="21.20" font-weight="400" font-style="normal" fill="#e81f78" stroke="#e81f78" stroke-width="0.3" stroke-linejoin="miter" textLength="29.00" lengthAdjust="spacingAndGlyphs">0%</text>
<text x="48.06" y="868.40" font-size="20.90" font-weight="400" font-style="normal" fill="#e81f78" stroke="#e81f78" stroke-width="0.3" stroke-linejoin="miter" textLength="148.94" lengthAdjust="spacingAndGlyphs">Vitamin C 90mg</text>
<text x="303.59" y="868.60" font-size="21.20" font-weight="400" font-style="normal" fill="#e81f78" stroke="#e81f78" stroke-width="0.3" stroke-linejoin="miter" textLength="52.29" lengthAdjust="spacingAndGlyphs">100%</text>
<rect x="46.3" y="760.80" width="316.40" height="1" fill="#e81f78" opacity=".72"/>
<rect x="46.3" y="789.80" width="316.40" height="1" fill="#e81f78" opacity=".72"/>
<rect x="46.3" y="819.60" width="316.40" height="1" fill="#e81f78" opacity=".72"/>
<rect x="46.3" y="847.80" width="316.40" height="1" fill="#e81f78" opacity=".72"/>
<rect x="46.3" y="880.3" width="316.40" height="3.00" fill="#e81f78"/>
<text x="47.15" y="904.80" font-size="14.80" font-weight="400" font-style="normal" fill="#e81f78" stroke="#e81f78" stroke-width="0.3" stroke-linejoin="miter" textLength="306.10" lengthAdjust="spacingAndGlyphs">*The % Daily Value (DV) tells you how much a nutrient</text>
<text x="46.50" y="923.30" font-size="14.80" font-weight="400" font-style="normal" fill="#e81f78" stroke="#e81f78" stroke-width="0.3" stroke-linejoin="miter" textLength="289.64" lengthAdjust="spacingAndGlyphs">in a serving of food contributes to a daily diet. 2,000</text>
<text x="46.81" y="941.80" font-size="14.80" font-weight="400" font-style="normal" fill="#e81f78" stroke="#e81f78" stroke-width="0.3" stroke-linejoin="miter" textLength="280.21" lengthAdjust="spacingAndGlyphs">calories a day is used for general nutrition advice.</text>
</g>
<text x="32.01" y="91.00" font-size="39.40" font-weight="400" font-style="normal" fill="#0a62d0" stroke="#0a62d0" stroke-width="1.6" stroke-linejoin="round" textLength="300.43" lengthAdjust="spacingAndGlyphs">Berry Ambitious</text>
<text x="33.28" y="129.30" font-size="27.91" font-weight="400" font-style="normal" fill="#0a62d0" textLength="150.57" lengthAdjust="spacingAndGlyphs">Mixed Berry</text>
<text x="435.68" y="91.00" font-size="39.40" font-weight="400" font-style="normal" fill="#fd5500" stroke="#fd5500" stroke-width="1.6" stroke-linejoin="round" textLength="149.31" lengthAdjust="spacingAndGlyphs">Orange</text>
<text x="437.46" y="130.10" font-size="39.40" font-weight="400" font-style="normal" fill="#fd5500" stroke="#fd5500" stroke-width="1.6" stroke-linejoin="round" textLength="177.99" lengthAdjust="spacingAndGlyphs">You Glad</text>
<text x="436.95" y="172.60" font-size="27.91" font-weight="400" font-style="normal" fill="#fd5500" textLength="202.67" lengthAdjust="spacingAndGlyphs">Orange Cream</text>
<text x="832.30" y="91.90" font-size="39.40" font-weight="400" font-style="normal" fill="#e81f78" stroke="#e81f78" stroke-width="1.6" stroke-linejoin="round" textLength="178.85" lengthAdjust="spacingAndGlyphs">Life Gives</text>
<text x="834.21" y="130.70" font-size="39.40" font-weight="400" font-style="normal" fill="#e81f78" stroke="#e81f78" stroke-width="1.6" stroke-linejoin="round" textLength="226.54" lengthAdjust="spacingAndGlyphs">You Lemons</text>
<text x="834.09" y="173.20" font-size="27.91" font-weight="400" font-style="normal" fill="#e81f78" textLength="234.97" lengthAdjust="spacingAndGlyphs">Strawberry Lemon</text>
<defs>
<radialGradient id="rasp" cx=".5" cy=".42" r=".6"><stop offset="0" stop-color="#d4202e"/><stop offset=".35" stop-color="#e04652"/><stop offset=".8" stop-color="#e2555e"/><stop offset="1" stop-color="#d84a56"/></radialGradient>
<radialGradient id="drup" cx=".4" cy=".3" r=".7"><stop offset="0" stop-color="#f8c4c4"/><stop offset=".35" stop-color="#ec7078"/><stop offset="1" stop-color="#d93644"/></radialGradient>
<radialGradient id="blue" cx=".45" cy=".4" r=".65"><stop offset="0" stop-color="#3f7be0"/><stop offset=".6" stop-color="#2a5fd0"/><stop offset="1" stop-color="#1d3fa8"/></radialGradient>
<radialGradient id="ice" cx=".42" cy=".3" r=".75"><stop offset="0" stop-color="#fff6d8"/><stop offset=".55" stop-color="#fbe8b4"/><stop offset="1" stop-color="#f2d088"/></radialGradient>
<linearGradient id="sbB" x1="0" y1="0" x2=".5" y2="1"><stop offset="0" stop-color="#e2565e"/><stop offset=".6" stop-color="#d93a48"/><stop offset=".9" stop-color="#de4a40"/><stop offset="1" stop-color="#ea7a3a"/></linearGradient>
<clipPath id="sbBclip"><path id="sbBpath" d="M1089 966C1094 956 1104 950 1118 946C1140 942 1164 946 1180 951L1204 958L1204 1092C1190 1104 1176 1114 1164 1122C1154 1128 1146 1132 1140 1130C1128 1126 1118 1116 1110 1100C1100 1080 1094 1050 1090 1020C1088 1000 1087 980 1089 966Z"/></clipPath>
<clipPath id="raspclip"><ellipse cx="45" cy="1017" rx="62" ry="67"/></clipPath>
<clipPath id="blueclip"><ellipse cx="77" cy="1110" rx="61" ry="59"/></clipPath>
<filter id="icetex" x="0" y="0" width="100%" height="100%"><feTurbulence type="fractalNoise" baseFrequency="0.045 0.1" numOctaves="3" seed="4" result="n"/><feColorMatrix in="n" values="0 0 0 0 0.91  0 0 0 0 0.74  0 0 0 0 0.40  -5.5 0 0 0 2.9" result="c"/><feComposite in="c" in2="SourceGraphic" operator="in"/></filter>
</defs>
<!-- raspberry -->
<g transform="translate(45 1030) scale(.98 1.04) translate(-45 -1030)">
<ellipse cx="45" cy="1019" rx="63" ry="68" fill="#fff" opacity=".8" filter="url(#b2)"/>
<ellipse cx="45" cy="1019" rx="54" ry="60" fill="#d83a48"/>
<g fill="url(#drup)" stroke="#cc2c3c" stroke-width=".8" stroke-opacity=".55"><ellipse cx="93.6" cy="1025.6" rx="9.8" ry="13.4" transform="rotate(97 93.6 1025.6)"/><ellipse cx="88.3" cy="1044.8" rx="9.6" ry="13.1" transform="rotate(118 88.3 1044.8)"/><ellipse cx="77.0" cy="1060.6" rx="10.2" ry="11.9" transform="rotate(139 77.0 1060.6)"/><ellipse cx="61.4" cy="1070.8" rx="10.5" ry="11.8" transform="rotate(160 61.4 1070.8)"/><ellipse cx="43.7" cy="1074.0" rx="10.4" ry="11.9" transform="rotate(182 43.7 1074.0)"/><ellipse cx="26.1" cy="1069.7" rx="9.6" ry="12.8" transform="rotate(203 26.1 1069.7)"/><ellipse cx="11.0" cy="1058.6" rx="11.2" ry="12.0" transform="rotate(224 11.0 1058.6)"/><ellipse cx="0.6" cy="1042.2" rx="9.9" ry="13.3" transform="rotate(245 0.6 1042.2)"/><ellipse cx="-3.9" cy="1022.6" rx="11.4" ry="13.2" transform="rotate(266 -3.9 1022.6)"/><ellipse cx="-1.7" cy="1002.5" rx="10.3" ry="14.2" transform="rotate(287 -1.7 1002.5)"/><ellipse cx="6.7" cy="984.7" rx="9.5" ry="13.9" transform="rotate(309 6.7 984.7)"/><ellipse cx="20.4" cy="971.5" rx="10.1" ry="12.1" transform="rotate(330 20.4 971.5)"/><ellipse cx="37.3" cy="964.7" rx="9.7" ry="12.5" transform="rotate(351 37.3 964.7)"/><ellipse cx="55.3" cy="965.2" rx="11.2" ry="12.2" transform="rotate(372 55.3 965.2)"/><ellipse cx="71.9" cy="973.0" rx="10.7" ry="13.4" transform="rotate(393 71.9 973.0)"/><ellipse cx="84.9" cy="987.1" rx="10.2" ry="13.1" transform="rotate(415 84.9 987.1)"/><ellipse cx="92.5" cy="1005.4" rx="9.6" ry="11.9" transform="rotate(436 92.5 1005.4)"/><ellipse cx="76.8" cy="1023.2" rx="10.9" ry="13.8" transform="rotate(97 76.8 1023.2)"/><ellipse cx="69.7" cy="1041.9" rx="10.1" ry="14.2" transform="rotate(129 69.7 1041.9)"/><ellipse cx="54.8" cy="1053.3" rx="10.4" ry="13.4" transform="rotate(162 54.8 1053.3)"/><ellipse cx="36.8" cy="1053.8" rx="11.1" ry="14.6" transform="rotate(195 36.8 1053.8)"/><ellipse cx="21.4" cy="1043.3" rx="10.0" ry="14.2" transform="rotate(228 21.4 1043.3)"/><ellipse cx="13.5" cy="1025.0" rx="10.6" ry="15.1" transform="rotate(260 13.5 1025.0)"/><ellipse cx="15.6" cy="1004.9" rx="11.0" ry="13.4" transform="rotate(293 15.6 1004.9)"/><ellipse cx="27.0" cy="989.2" rx="11.5" ry="12.9" transform="rotate(326 27.0 989.2)"/><ellipse cx="44.2" cy="983.0" rx="10.3" ry="14.7" transform="rotate(359 44.2 983.0)"/><ellipse cx="61.6" cy="988.2" rx="9.8" ry="14.0" transform="rotate(391 61.6 988.2)"/><ellipse cx="73.8" cy="1003.2" rx="9.5" ry="14.5" transform="rotate(424 73.8 1003.2)"/><ellipse cx="55.4" cy="1031.2" rx="9.6" ry="12.9" transform="rotate(136 55.4 1031.2)"/><ellipse cx="40.9" cy="1035.4" rx="9.1" ry="12.5" transform="rotate(196 40.9 1035.4)"/><ellipse cx="30.5" cy="1023.1" rx="9.7" ry="12.2" transform="rotate(256 30.5 1023.1)"/><ellipse cx="34.6" cy="1006.8" rx="9.4" ry="12.8" transform="rotate(316 34.6 1006.8)"/><ellipse cx="49.1" cy="1002.6" rx="10.3" ry="11.9" transform="rotate(376 49.1 1002.6)"/><ellipse cx="59.5" cy="1014.9" rx="9.8" ry="10.9" transform="rotate(436 59.5 1014.9)"/></g>
<ellipse cx="58" cy="994" rx="22" ry="14" fill="#cf1c2a" opacity=".9" filter="url(#b2)"/>
<ellipse cx="62" cy="996" rx="12" ry="7" fill="#e8404a" opacity=".8" filter="url(#b1)"/>
<g fill="#fff" opacity=".8" filter="url(#b1)"><ellipse cx="91.1" cy="1021.6" rx="3.6" ry="2.2" transform="rotate(-30 91.1 1021.6)"/><ellipse cx="85.8" cy="1040.8" rx="3.6" ry="2.2" transform="rotate(-30 85.8 1040.8)"/><ellipse cx="74.5" cy="1056.6" rx="3.6" ry="2.2" transform="rotate(-30 74.5 1056.6)"/><ellipse cx="58.9" cy="1066.8" rx="3.6" ry="2.2" transform="rotate(-30 58.9 1066.8)"/><ellipse cx="41.2" cy="1070.0" rx="3.6" ry="2.2" transform="rotate(-30 41.2 1070.0)"/><ellipse cx="23.6" cy="1065.7" rx="3.6" ry="2.2" transform="rotate(-30 23.6 1065.7)"/><ellipse cx="8.5" cy="1054.6" rx="3.6" ry="2.2" transform="rotate(-30 8.5 1054.6)"/><ellipse cx="-1.9" cy="1038.2" rx="3.6" ry="2.2" transform="rotate(-30 -1.9 1038.2)"/><ellipse cx="-6.4" cy="1018.6" rx="3.6" ry="2.2" transform="rotate(-30 -6.4 1018.6)"/><ellipse cx="-4.2" cy="998.5" rx="3.6" ry="2.2" transform="rotate(-30 -4.2 998.5)"/><ellipse cx="4.2" cy="980.7" rx="3.6" ry="2.2" transform="rotate(-30 4.2 980.7)"/><ellipse cx="17.9" cy="967.5" rx="3.6" ry="2.2" transform="rotate(-30 17.9 967.5)"/><ellipse cx="34.8" cy="960.7" rx="3.6" ry="2.2" transform="rotate(-30 34.8 960.7)"/><ellipse cx="52.8" cy="961.2" rx="3.6" ry="2.2" transform="rotate(-30 52.8 961.2)"/><ellipse cx="69.4" cy="969.0" rx="3.6" ry="2.2" transform="rotate(-30 69.4 969.0)"/><ellipse cx="82.4" cy="983.1" rx="3.6" ry="2.2" transform="rotate(-30 82.4 983.1)"/><ellipse cx="90.0" cy="1001.4" rx="3.6" ry="2.2" transform="rotate(-30 90.0 1001.4)"/><ellipse cx="74.3" cy="1019.2" rx="3.6" ry="2.2" transform="rotate(-30 74.3 1019.2)"/><ellipse cx="67.2" cy="1037.9" rx="3.6" ry="2.2" transform="rotate(-30 67.2 1037.9)"/><ellipse cx="52.3" cy="1049.3" rx="3.6" ry="2.2" transform="rotate(-30 52.3 1049.3)"/><ellipse cx="34.3" cy="1049.8" rx="3.6" ry="2.2" transform="rotate(-30 34.3 1049.8)"/><ellipse cx="18.9" cy="1039.3" rx="3.6" ry="2.2" transform="rotate(-30 18.9 1039.3)"/><ellipse cx="11.0" cy="1021.0" rx="3.6" ry="2.2" transform="rotate(-30 11.0 1021.0)"/><ellipse cx="13.1" cy="1000.9" rx="3.6" ry="2.2" transform="rotate(-30 13.1 1000.9)"/><ellipse cx="24.5" cy="985.2" rx="3.6" ry="2.2" transform="rotate(-30 24.5 985.2)"/><ellipse cx="41.7" cy="979.0" rx="3.6" ry="2.2" transform="rotate(-30 41.7 979.0)"/><ellipse cx="59.1" cy="984.2" rx="3.6" ry="2.2" transform="rotate(-30 59.1 984.2)"/><ellipse cx="71.3" cy="999.2" rx="3.6" ry="2.2" transform="rotate(-30 71.3 999.2)"/><ellipse cx="52.9" cy="1027.2" rx="3.6" ry="2.2" transform="rotate(-30 52.9 1027.2)"/><ellipse cx="38.4" cy="1031.4" rx="3.6" ry="2.2" transform="rotate(-30 38.4 1031.4)"/><ellipse cx="28.0" cy="1019.1" rx="3.6" ry="2.2" transform="rotate(-30 28.0 1019.1)"/><ellipse cx="32.1" cy="1002.8" rx="3.6" ry="2.2" transform="rotate(-30 32.1 1002.8)"/><ellipse cx="46.6" cy="998.6" rx="3.6" ry="2.2" transform="rotate(-30 46.6 998.6)"/><ellipse cx="57.0" cy="1010.9" rx="3.6" ry="2.2" transform="rotate(-30 57.0 1010.9)"/></g>
<path d="M34 960C42 950 58 950 72 958C78 964 80 972 76 974C70 968 62 966 54 970C48 976 46 988 40 986C34 978 30 968 34 960Z" fill="#f8d4d4" opacity=".9" filter="url(#b1)"/>
</g>
<!-- blueberry -->
<g>
<ellipse cx="77" cy="1110" rx="61" ry="59" fill="url(#blue)"/>
<g clip-path="url(#blueclip)">
<path d="M16 1120C30 1150 70 1172 110 1164C130 1158 140 1140 142 1120C120 1130 60 1134 16 1120Z" fill="#4f7fdc" opacity=".85" filter="url(#b4)"/>
<path d="M44 1112C64 1094 104 1088 142 1096L142 1122C112 1112 72 1116 50 1134Z" fill="#ccd8ef" opacity=".95" filter="url(#b2)"/>
<path d="M50 1132C70 1120 100 1116 136 1122C132 1140 120 1150 100 1154C80 1150 62 1144 50 1132Z" fill="#7f9fe0" opacity=".7" filter="url(#b4)"/>
<path d="M58 1070C78 1056 112 1058 130 1078C112 1090 80 1092 56 1088Z" fill="#2350c0" filter="url(#b2)"/>
<path d="M20 1092C28 1074 44 1064 60 1068C54 1080 44 1094 32 1104Z" fill="#b9c8ea" opacity=".9" filter="url(#b2)"/>
<path d="M40 1072C48 1066 58 1064 66 1066" stroke="#23409c" stroke-width="3" fill="none" opacity=".8" filter="url(#b1)"/>
<path d="M78 1057C92 1053 106 1057 116 1064" stroke="#e6eefc" stroke-width="3" fill="none" opacity=".95" filter="url(#b1)"/>
<path d="M104 1066C114 1068 122 1074 128 1082" stroke="#dfe8fa" stroke-width="2.5" fill="none" opacity=".8" filter="url(#b1)"/>
<path d="M20 1140C40 1168 92 1178 132 1150" stroke="#1a3a9c" stroke-width="9" fill="none" opacity=".55" filter="url(#b4)"/>
<path d="M18 1100C14 1120 20 1140 30 1152" stroke="#9fb6e8" stroke-width="5" fill="none" opacity=".7" filter="url(#b2)"/>
</g>
</g>
<!-- ice cream -->
<g>
<path d="M356 1082C360 1070 368 1064 374 1060C366 1020 380 980 410 960C436 944 472 944 498 958C526 974 540 1010 532 1056C540 1062 544 1070 542 1078C540 1092 524 1100 506 1104C490 1108 474 1106 460 1108C458 1120 456 1140 453 1148C450 1140 450 1120 448 1110C430 1110 410 1110 396 1106C380 1102 362 1096 356 1082Z" fill="#fff" opacity=".7" filter="url(#b2)"/>
<path id="icep" d="M357 1082C361 1072 367 1066 375 1062C367 1022 381 982 411 962C436 946 471 946 497 960C525 976 539 1010 531 1056C539 1060 543 1068 541 1076C539 1090 525 1102 507 1106C491 1110 475 1106 461 1110C458 1112 457 1120 457 1130C457 1138 456 1146 453 1148C450 1146 450 1138 450 1130C450 1120 449 1113 446 1110C431 1110 411 1112 397 1108C381 1104 363 1096 357 1082Z" fill="url(#ice)"/>
<use href="#icep" filter="url(#icetex)"/>
<path d="M392 1000C400 985 412 975 420 972M404 1022C410 1005 418 996 428 992M398 1046C402 1034 410 1026 418 1022M440 1012C456 1004 472 1006 486 1002M452 1030C470 1022 488 1024 504 1018M470 986C484 982 500 986 510 990M434 1052C450 1046 470 1048 484 1044M490 1040C502 1036 514 1038 522 1034" stroke="#e9c474" stroke-width="3.5" fill="none" opacity=".7" filter="url(#b1)"/>
<path d="M410 1044C416 1056 428 1062 444 1060C436 1052 428 1046 424 1036Z" fill="#f1d28c" opacity=".8" filter="url(#b2)"/>
<path d="M360 1082C372 1068 392 1066 420 1068C440 1072 452 1080 470 1080C500 1080 524 1066 540 1074C540 1090 523 1098 505 1102C489 1106 473 1104 459 1106L449 1108C431 1108 411 1108 397 1104C381 1100 364 1094 360 1082Z" fill="#fbeec8" filter="url(#b1)"/>
<path d="M374 1062C392 1068 416 1064 436 1070C456 1078 480 1082 500 1076C516 1070 528 1064 532 1058" stroke="#eac678" stroke-width="5" fill="none" opacity=".85" filter="url(#b2)"/>
<path d="M380 1090C400 1080 430 1084 450 1092C470 1098 500 1094 520 1086" stroke="#f2dba0" stroke-width="4" fill="none" opacity=".8" filter="url(#b2)"/>
<path d="M370 1094C384 1106 400 1110 414 1106" stroke="#b9ab84" stroke-width="4" fill="none" opacity=".7" filter="url(#b1)"/>
</g>
<!-- bottom-right strawberry -->
<g>
<path d="M1112 909C1120 911 1127 917 1131 925C1140 929 1152 935 1160 944L1148 950C1138 946 1129 938 1126 930C1122 922 1118 914 1112 909Z" fill="#2f8f48"/>
<path d="M1127 926C1138 930 1150 934 1158 942L1150 948C1140 944 1132 936 1127 926Z" fill="#3f9f54"/>
<path d="M1153 938C1155 920 1168 908 1183 904C1187 920 1185 936 1177 951L1160 950Z" fill="#46a857"/>
<path d="M1168 944C1172 930 1178 916 1183 906C1185 920 1184 936 1177 950Z" fill="#3a9a4e"/>
<path d="M1180 952C1186 944 1194 941 1204 941L1204 958Z" fill="#2f8f48"/>
<use href="#sbBpath" fill="url(#sbB)"/>
<g clip-path="url(#sbBclip)">
<path d="M1086 990C1088 970 1100 954 1120 948C1140 944 1160 946 1180 952C1160 956 1140 958 1128 964C1110 972 1100 984 1096 1010Z" fill="#f6c6c6" opacity=".85" filter="url(#b2)"/>
<path d="M1130 956C1150 950 1180 954 1204 962L1204 978C1180 968 1150 966 1134 968Z" fill="#c62234" opacity=".85" filter="url(#b2)"/>
<path d="M1120 968C1128 1000 1124 1040 1118 1070C1116 1082 1128 1086 1138 1080C1160 1050 1170 1020 1204 1000" stroke="#f3a6ae" stroke-width="3.5" fill="none" opacity=".85" filter="url(#b1)"/>
<path d="M1136 980C1142 1000 1140 1020 1136 1034C1140 1040 1150 1036 1156 1028C1164 1012 1168 996 1176 984" stroke="#f3a6ae" stroke-width="3" fill="none" opacity=".8" filter="url(#b1)"/>
<path d="M1126 1040C1122 1060 1120 1078 1130 1080C1146 1070 1156 1040 1166 1024C1150 1036 1138 1040 1126 1040Z" fill="#c81e3a" opacity=".8" filter="url(#b2)"/>
<path d="M1176 1010C1186 1000 1196 996 1204 994L1204 1040C1192 1040 1180 1030 1176 1010Z" fill="#e86a72" opacity=".7" filter="url(#b2)"/>
<path d="M1126 1126C1152 1106 1180 1086 1204 1060L1204 1104C1180 1120 1156 1132 1140 1136Z" fill="#ee8636" opacity=".95" filter="url(#b4)"/>
<g fill="#e6c64a" opacity=".9"><circle cx="1108" cy="974" r="1.3"/><circle cx="1104" cy="996" r="1.3"/><circle cx="1114" cy="1010" r="1.3"/><circle cx="1106" cy="1030" r="1.3"/><circle cx="1116" cy="1050" r="1.3"/><circle cx="1148" cy="1000" r="1.5"/><circle cx="1158" cy="1002" r="1.5"/><circle cx="1148" cy="1016" r="1.5"/><circle cx="1154" cy="986" r="1.5"/><circle cx="1172" cy="1032" r="1.4"/><circle cx="1188" cy="1022" r="1.4"/><circle cx="1166" cy="1050" r="1.4"/><circle cx="1184" cy="1048" r="1.4"/><circle cx="1150" cy="1078" r="1.4"/><circle cx="1170" cy="1074" r="1.4"/><circle cx="1190" cy="1070" r="1.4"/><circle cx="1140" cy="1100" r="1.4"/><circle cx="1160" cy="1098" r="1.4"/><circle cx="1180" cy="1092" r="1.4"/><circle cx="1124" cy="1098" r="1.3"/><circle cx="1110" cy="1074" r="1.3"/><circle cx="1196" cy="1050" r="1.4"/><circle cx="1130" cy="1114" r="1.3"/></g>
</g>
</g>

</svg>
</body></html>
